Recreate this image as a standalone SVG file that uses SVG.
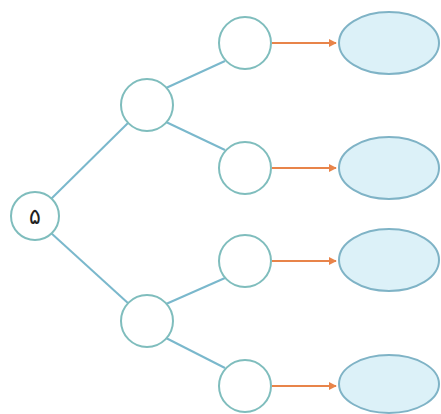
<svg xmlns="http://www.w3.org/2000/svg" width="441" height="414" viewBox="0 0 441 414">
<style>
.c{fill:#ffffff;stroke:#7fbdbd;stroke-width:2}
.e{fill:#dcf1f8;stroke:#7fb3c6;stroke-width:2}
.l{stroke:#7ab8cc;stroke-width:2;fill:none}
.a{stroke:#e8844a;stroke-width:2;fill:none;marker-end:url(#ah)}
.t{font-family:"DejaVu Sans",sans-serif;font-size:22px;fill:#222;text-anchor:middle}
</style>
<defs>
<marker id="ah" viewBox="0 0 10 10" refX="9" refY="5" markerWidth="4" markerHeight="4" orient="auto">
<path d="M0,0L10,5L0,10z" fill="#e8844a"/>
</marker>
</defs>
<rect width="441" height="414" fill="#ffffff"/>
<g id="connectors">
<line class="l" x1="51" y1="199" x2="129" y2="122"/>
<line class="l" x1="51" y1="233" x2="129" y2="304"/>
<line class="l" x1="166" y1="88" x2="225" y2="61"/>
<line class="l" x1="166" y1="122" x2="225" y2="150"/>
<line class="l" x1="166" y1="304" x2="225" y2="278"/>
<line class="l" x1="166" y1="338" x2="225" y2="368"/>
<line class="a" x1="272" y1="43" x2="336" y2="43"/>
<line class="a" x1="272" y1="168" x2="336" y2="168"/>
<line class="a" x1="272" y1="261" x2="336" y2="261"/>
<line class="a" x1="272" y1="386" x2="336" y2="386"/>
</g>
<g id="root"><circle class="c" cx="35" cy="216" r="24"/><text class="t" x="35" y="224">۵</text></g>
<g id="mid1"><circle class="c" cx="147" cy="105" r="26"/></g>
<g id="mid2"><circle class="c" cx="147" cy="321" r="26"/></g>
<g id="leaf1"><circle class="c" cx="245" cy="43" r="26"/></g>
<g id="leaf2"><circle class="c" cx="245" cy="168" r="26"/></g>
<g id="leaf3"><circle class="c" cx="245" cy="261" r="26"/></g>
<g id="leaf4"><circle class="c" cx="245" cy="386" r="26"/></g>
<g id="out1"><ellipse class="e" cx="389" cy="43" rx="50" ry="31"/></g>
<g id="out2"><ellipse class="e" cx="389" cy="168" rx="50" ry="31"/></g>
<g id="out3"><ellipse class="e" cx="389" cy="260" rx="50" ry="31"/></g>
<g id="out4"><ellipse class="e" cx="389" cy="384" rx="50" ry="29"/></g>
</svg>
